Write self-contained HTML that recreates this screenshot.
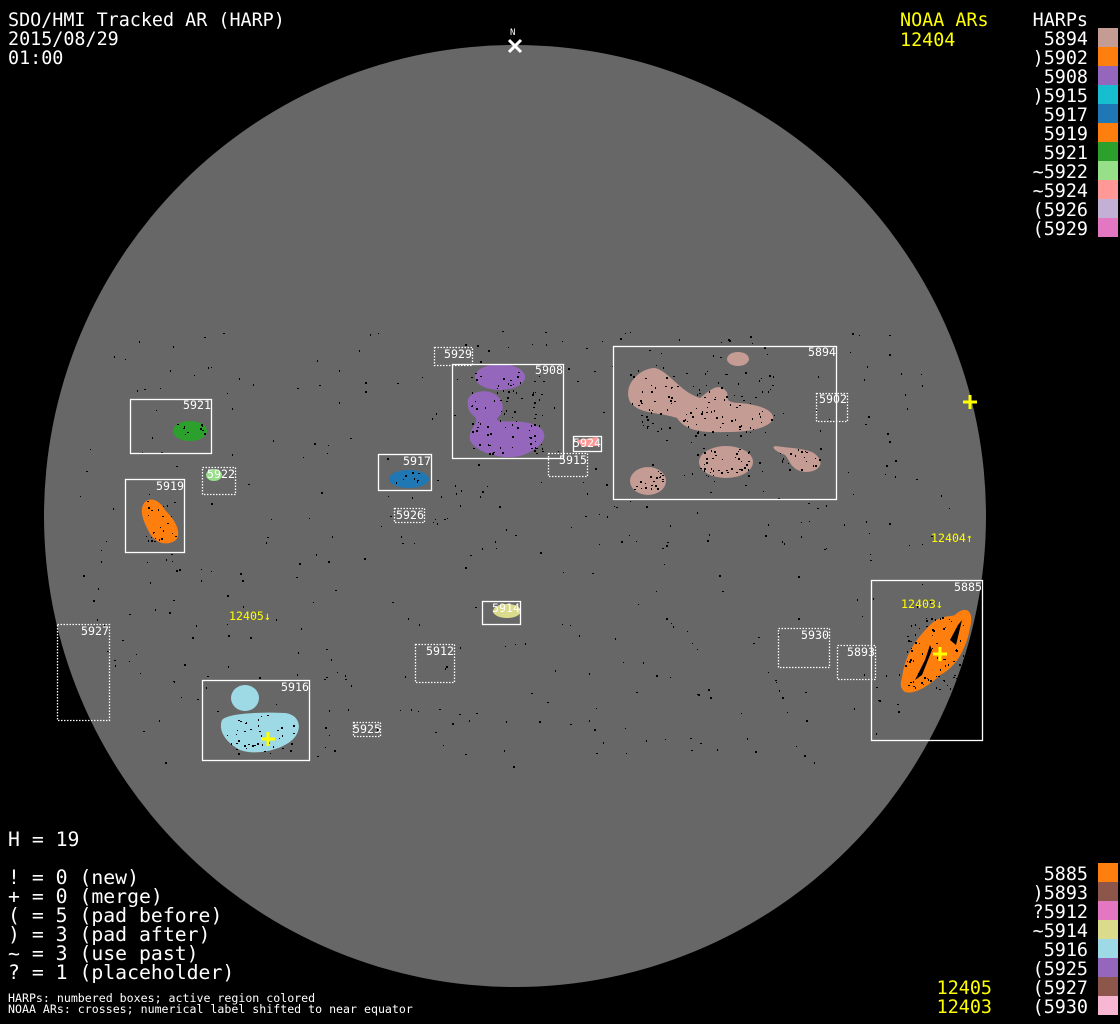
<!DOCTYPE html>
<html><head><meta charset="utf-8"><style>
html,body{margin:0;padding:0;background:#000;width:1120px;height:1024px;overflow:hidden}
svg{display:block}
.t{font-family:"DejaVu Sans Mono","Liberation Mono",monospace;font-size:18.4px;fill:#fff}
.l{font-family:"DejaVu Sans Mono","Liberation Mono",monospace;font-size:19.8px;fill:#fff}
.y{fill:#ffff00}
.s{font-family:"DejaVu Sans Mono","Liberation Mono",monospace;font-size:11.6px;fill:#fff}
.sy{font-family:"DejaVu Sans Mono","Liberation Mono",monospace;font-size:11.6px;fill:#ffff00}
.b{fill:none;stroke:#fff;stroke-width:1.3}
.d{fill:none;stroke:#fff;stroke-width:1.3;stroke-dasharray:1.5 1.5}
</style></head><body>
<svg id="sv" width="1120" height="1024" viewBox="0 0 1120 1024" xmlns="http://www.w3.org/2000/svg">
<rect width="1120" height="1024" fill="#000"/>
<circle cx="515" cy="516" r="471" fill="#676767"/>
<g id="dots" fill="#000"></g>

<!-- blobs -->
<g fill="#c49c94">
<path d="M630,402 C622,385 640,368 655,368 C670,372 680,392 700,398 C710,390 716,385 722,388 C735,395 718,402 740,403 C760,405 775,410 773,420 C765,430 745,432 725,432 C700,433 685,430 677,418 C660,412 640,415 630,402Z"/>
<ellipse cx="738" cy="359" rx="11" ry="7"/>
<ellipse cx="726" cy="462" rx="27" ry="16"/>
<ellipse cx="648" cy="481" rx="18" ry="14"/>
<path d="M775,446 C790,448 800,448 812,452 C826,460 822,472 805,472 C790,470 790,460 785,455 C778,452 770,448 775,446Z"/>
</g>
<g fill="#9467bd">
<ellipse cx="500" cy="377" rx="25" ry="13"/>
<path d="M468,405 C465,395 478,389 490,392 C505,397 506,412 497,418 C495,425 520,418 535,425 C552,432 545,448 520,456 C500,460 475,452 470,440 C468,430 478,424 476,418 C470,413 468,410 468,405Z"/>
</g>
<path d="M577,440 L598,437 L598,446 L582,447Z" fill="#ff9896"/>
<ellipse cx="190" cy="431" rx="17" ry="10" fill="#2ca02c"/>
<ellipse cx="214" cy="475" rx="8" ry="6" fill="#98df8a"/>
<ellipse cx="409" cy="479" rx="20" ry="9" fill="#1f77b4"/>
<path d="M143,505 C148,495 160,500 165,510 C175,520 182,532 176,540 C168,546 155,545 148,530 C143,520 140,512 143,505Z" fill="#ff7f0e"/>
<ellipse cx="507" cy="611" rx="14" ry="7" fill="#dbdb8d"/>
<g fill="#9edae5">
<ellipse cx="245" cy="698" rx="14" ry="13"/>
<path d="M222,720 C228,713 260,712 285,713 C300,715 302,728 295,737 C285,750 255,756 240,750 C225,742 218,730 222,720Z"/>
</g>
<path d="M902,678 C905,655 915,640 930,625 C940,615 950,617 955,615 C965,605 975,610 970,628 C966,650 955,668 940,675 C930,685 915,695 905,692 C900,688 900,684 902,678Z" fill="#ff7f0e"/>
<g fill="#000">
<path d="M915,680 L925,660 L930,645 L932,650 L922,675Z"/><path d="M950,640 L958,625 L962,620 L956,645Z"/>
</g>
<g id="indots" fill="#000"></g>

<!-- boxes -->
<rect class="b" x="613.5" y="346.5" width="223" height="153"/><text class="s" x="808" y="356">5894</text>
<rect class="d" x="816.5" y="393.5" width="31" height="28"/><text class="s" x="819" y="403">5902</text>
<rect class="b" x="452.5" y="364.5" width="111" height="94"/><text class="s" x="535" y="374">5908</text>
<rect class="d" x="434.5" y="347.5" width="38" height="18"/><text class="s" x="444" y="358">5929</text>
<rect class="b" x="573.5" y="436.5" width="28" height="15"/><text class="s" x="573" y="447">5924</text>
<rect class="d" x="548.5" y="453.5" width="39" height="23"/><text class="s" x="559" y="464">5915</text>
<rect class="b" x="130.5" y="399.5" width="81" height="54"/><text class="s" x="183" y="409">5921</text>
<rect class="d" x="202.5" y="467.5" width="33" height="27"/><text class="s" x="207" y="478">5922</text>
<rect class="b" x="378.5" y="454.5" width="53" height="36"/><text class="s" x="403" y="465">5917</text>
<rect class="d" x="394.5" y="508.5" width="30" height="14"/><text class="s" x="396" y="519">5926</text>
<rect class="b" x="125.5" y="479.5" width="59" height="73"/><text class="s" x="156" y="490">5919</text>
<rect class="b" x="482.5" y="601.5" width="38" height="23"/><text class="s" x="492" y="612">5914</text>
<rect class="d" x="57.5" y="624.5" width="52" height="96"/><text class="s" x="81" y="635">5927</text>
<rect class="d" x="415.5" y="644.5" width="39" height="38"/><text class="s" x="426" y="655">5912</text>
<rect class="b" x="202.5" y="680.5" width="107" height="80"/><text class="s" x="281" y="691">5916</text>
<rect class="d" x="353.5" y="722.5" width="27" height="14"/><text class="s" x="353" y="733">5925</text>
<rect class="d" x="778.5" y="628.5" width="51" height="39"/><text class="s" x="801" y="639">5930</text>
<rect class="d" x="837.5" y="645.5" width="38" height="34"/><text class="s" x="847" y="656">5893</text>
<rect class="b" x="871.5" y="580.5" width="111" height="160"/><text class="s" x="954" y="591">5885</text>

<!-- NOAA -->
<text class="sy" x="931" y="542">12404↑</text>
<text class="sy" x="229" y="620">12405↓</text>
<text class="sy" x="901" y="608">12403↓</text>
<g stroke="#ffff00" stroke-width="3">
<path d="M963,402h14M970,395v14"/><path d="M933,654h14M940,647v14"/><path d="M261,739h14M268,732v14"/>
</g>
<g stroke="#fff" stroke-width="3"><path d="M509,40l12,12M521,40l-12,12"/></g>
<text x="510" y="35" style="font-family:'DejaVu Sans Mono',monospace;font-size:9px;fill:#fff">N</text>

<!-- text -->
<text class="t" x="8" y="26">SDO/HMI Tracked AR (HARP)</text>
<text class="t" x="8" y="45">2015/08/29</text>
<text class="t" x="8" y="64">01:00</text>
<text class="t y" x="900" y="26">NOAA ARs</text>
<text class="t y" x="900" y="46">12404</text>
<g text-anchor="end">
<text class="t" x="1088" y="26">HARPs</text>
<text class="t" x="1088" y="45">5894</text>
<text class="t" x="1088" y="64">)5902</text>
<text class="t" x="1088" y="83">5908</text>
<text class="t" x="1088" y="102">)5915</text>
<text class="t" x="1088" y="121">5917</text>
<text class="t" x="1088" y="140">5919</text>
<text class="t" x="1088" y="159">5921</text>
<text class="t" x="1088" y="178">~5922</text>
<text class="t" x="1088" y="197">~5924</text>
<text class="t" x="1088" y="216">(5926</text>
<text class="t" x="1088" y="235">(5929</text>
<text class="t" x="1088" y="880">5885</text>
<text class="t" x="1088" y="899">)5893</text>
<text class="t" x="1088" y="918">?5912</text>
<text class="t" x="1088" y="937">~5914</text>
<text class="t" x="1088" y="956">5916</text>
<text class="t" x="1088" y="975">(5925</text>
<text class="t" x="1088" y="994">(5927</text>
<text class="t" x="1088" y="1013">(5930</text>
<text class="t y" x="992" y="994">12405</text>
<text class="t y" x="992" y="1013">12403</text>
</g>
<g>
<rect x="1098" y="28" width="20" height="19" fill="#c49c94"/>
<rect x="1098" y="47" width="20" height="19" fill="#ff7f0e"/>
<rect x="1098" y="66" width="20" height="19" fill="#9467bd"/>
<rect x="1098" y="85" width="20" height="19" fill="#17becf"/>
<rect x="1098" y="104" width="20" height="19" fill="#1f77b4"/>
<rect x="1098" y="123" width="20" height="19" fill="#ff7f0e"/>
<rect x="1098" y="142" width="20" height="19" fill="#2ca02c"/>
<rect x="1098" y="161" width="20" height="19" fill="#98df8a"/>
<rect x="1098" y="180" width="20" height="19" fill="#ff9896"/>
<rect x="1098" y="199" width="20" height="19" fill="#c5b0d5"/>
<rect x="1098" y="218" width="20" height="19" fill="#e377c2"/>
<rect x="1098" y="863" width="20" height="19" fill="#ff7f0e"/>
<rect x="1098" y="882" width="20" height="19" fill="#8c564b"/>
<rect x="1098" y="901" width="20" height="19" fill="#e377c2"/>
<rect x="1098" y="920" width="20" height="19" fill="#dbdb8d"/>
<rect x="1098" y="939" width="20" height="19" fill="#9edae5"/>
<rect x="1098" y="958" width="20" height="19" fill="#9467bd"/>
<rect x="1098" y="977" width="20" height="19" fill="#8c564b"/>
<rect x="1098" y="996" width="20" height="19" fill="#f7b6d2"/>
</g>
<text class="l" x="8" y="846">H = 19</text>
<text class="l" x="8" y="884">! = 0 (new)</text>
<text class="l" x="8" y="903">+ = 0 (merge)</text>
<text class="l" x="8" y="922">( = 5 (pad before)</text>
<text class="l" x="8" y="941">) = 3 (pad after)</text>
<text class="l" x="8" y="960">~ = 3 (use past)</text>
<text class="l" x="8" y="979">? = 1 (placeholder)</text>
<text x="8" y="1002" style="font-family:'DejaVu Sans Mono',monospace;font-size:11.6px;fill:#fff">HARPs: numbered boxes; active region colored</text>
<text x="8" y="1013" style="font-family:'DejaVu Sans Mono',monospace;font-size:11.6px;fill:#fff">NOAA ARs: crosses; numerical label shifted to near equator</text>
</svg>
<script>
(function(){var s=12345;function r(){s=(s*1103515245+12345)%2147483648;return s/2147483648;}
var h='';
for(var i=0;i<450;i++){var x=515+(r()*2-1)*440,y=330+r()*440;var dx=x-515,dy=y-516;if(dx*dx+dy*dy>440*440)continue;
h+='<rect x="'+x.toFixed(0)+'" y="'+y.toFixed(0)+'" width="'+(1+Math.floor(r()*1.6))+'" height="'+(1+Math.floor(r()*2))+'"/>';}
document.getElementById('dots').innerHTML=h;
var regs=[[630,370,145,65,120],[700,448,50,28,40],[633,470,30,22,20],[470,368,75,88,90],[225,715,70,38,40],[145,500,32,42,25],[905,615,65,75,80],[780,447,40,22,20],[175,423,30,16,10],[393,472,30,12,8]];
h='';
regs.forEach(function(g){for(var i=0;i<g[4];i++){h+='<rect x="'+(g[0]+r()*g[2]).toFixed(0)+'" y="'+(g[1]+r()*g[3]).toFixed(0)+'" width="'+(1+Math.floor(r()*2))+'" height="'+(1+Math.floor(r()*2))+'"/>';}});
document.getElementById('indots').innerHTML=h;})();
</script>
</body></html>
